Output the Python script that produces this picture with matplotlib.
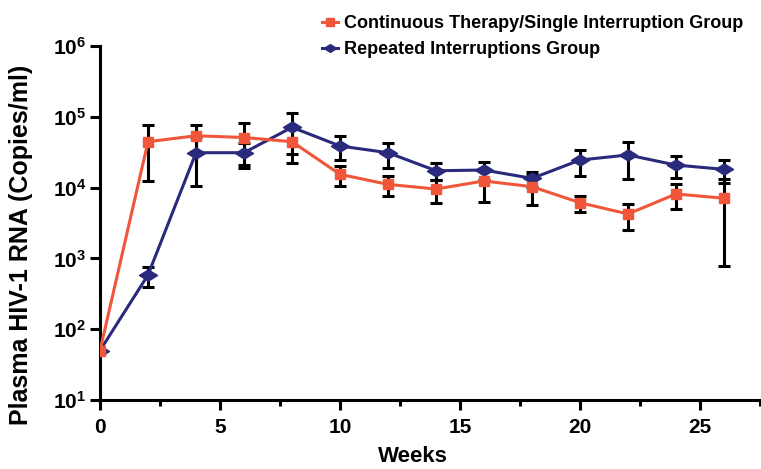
import matplotlib
matplotlib.use("Agg")
import matplotlib.pyplot as plt
from matplotlib.ticker import FixedLocator, FuncFormatter
from matplotlib.lines import Line2D
from matplotlib.path import Path
import numpy as np

plt.rcParams['font.family'] = ['Liberation Sans', 'DejaVu Sans']
plt.rcParams['font.weight'] = 'bold'
plt.rcParams['mathtext.fontset'] = 'custom'
plt.rcParams['mathtext.rm'] = 'Liberation Sans:bold'
plt.rcParams['mathtext.bf'] = 'Liberation Sans:bold'
plt.rcParams['mathtext.it'] = 'Liberation Sans:bold'

weeks = [0, 2, 4, 6, 8, 10, 12, 14, 16, 18, 20, 22, 24, 26]
cont_mean = [50, 44500, 54000, 51000, 44500, 15400, 11100, 9550, 12400, 10300, 6120, 4240, 8130, 7070]
cont_sem = [0, 32000, 22000, 30000, 22500, 5000, 3600, 3400, 6100, 4600, 1600, 1700, 3100, 6300]
rep_mean = [50, 583, 31100, 31100, 71000, 38700, 31100, 17300, 17700, 13500, 24500, 28900, 20800, 18100]
rep_sem = [0, 185, 20600, 12000, 41000, 14500, 12000, 4600, 5000, 3300, 9700, 15600, 7300, 6400]

cont_label = "Continuous Therapy/Single Interruption Group"
rep_label = "Repeated Interruptions Group"
orange = "#F0563A"
navy = "#2A2A7C"

wide_diamond = Path([(-1, 0), (0, 0.62), (1, 0), (0, -0.62), (-1, 0)],
                    [Path.MOVETO, Path.LINETO, Path.LINETO, Path.LINETO, Path.CLOSEPOLY])

fig = plt.figure(figsize=(7.61, 4.69), dpi=100)
ax = fig.add_axes([100/761, 1-400/469, 660/761, (400-46)/469])

w = np.array(weeks)
cm, cs = np.array(cont_mean, float), np.array(cont_sem, float)
rm, rs = np.array(rep_mean, float), np.array(rep_sem, float)

ax.errorbar(w, cm, yerr=cs, fmt='none', ecolor='black', elinewidth=2.2, capsize=4, capthick=2.2, zorder=2)
ax.errorbar(w, rm, yerr=rs, fmt='none', ecolor='black', elinewidth=2.2, capsize=4, capthick=2.2, zorder=2)
ax.plot(w, rm, color=navy, lw=2.2, marker=wide_diamond, ms=13, mec=navy, mfc=navy, zorder=3)
ax.plot(w, cm, color=orange, lw=2.2, marker='s', ms=7.5, mec=orange, mfc=orange, zorder=4)

ax.set_yscale('log')
ax.set_ylim(10, 1e6)
ax.set_xlim(0, 27.5)
ax.yaxis.set_major_locator(FixedLocator([10, 100, 1e3, 1e4, 1e5, 1e6]))
ax.yaxis.set_minor_locator(FixedLocator([]))
ax.yaxis.set_major_formatter(FuncFormatter(lambda v, p: r'$\mathbf{10^{%d}}$' % int(round(np.log10(v)))))
ax.xaxis.set_major_locator(FixedLocator([0, 5, 10, 15, 20, 25]))
ax.xaxis.set_minor_locator(FixedLocator([2.5, 7.5, 12.5, 17.5, 22.5, 27.5]))

for s in ['top', 'right']:
    ax.spines[s].set_visible(False)
for s in ['left', 'bottom']:
    ax.spines[s].set_linewidth(2.2)
ax.tick_params(axis='both', which='major', width=2.2, length=7, labelsize=15, direction='out')
ax.tick_params(axis='x', which='major', pad=6)
ax.tick_params(axis='y', which='major', pad=3)
ax.tick_params(axis='x', which='minor', width=2.2, length=4, direction='out')
for lab in ax.get_xticklabels():
    lab.set_fontweight('bold')

ax.set_xlabel("Weeks", fontsize=16, fontweight='bold')
ax.set_ylabel("Plasma HIV-1 RNA (Copies/ml)", fontsize=18, fontweight='bold')
ax.xaxis.set_label_coords((413-100)/660, -(446-400)/354)
ax.yaxis.set_label_coords(-(100-33)/660, (400-245)/354)

handles = [Line2D([], [], color=orange, lw=2.2, marker='s', ms=6),
           Line2D([], [], color=navy, lw=2.2, marker=wide_diamond, ms=9)]
fig.legend(handles, [cont_label, rep_label], loc='upper left', bbox_to_anchor=(322/761, 1-15/469),
           frameon=False, prop={'size': 13, 'weight': 'bold'}, handlelength=0.9, handletextpad=0.3,
           labelspacing=0.5, borderaxespad=0, borderpad=0)

fig.savefig("out.png", dpi=100)
